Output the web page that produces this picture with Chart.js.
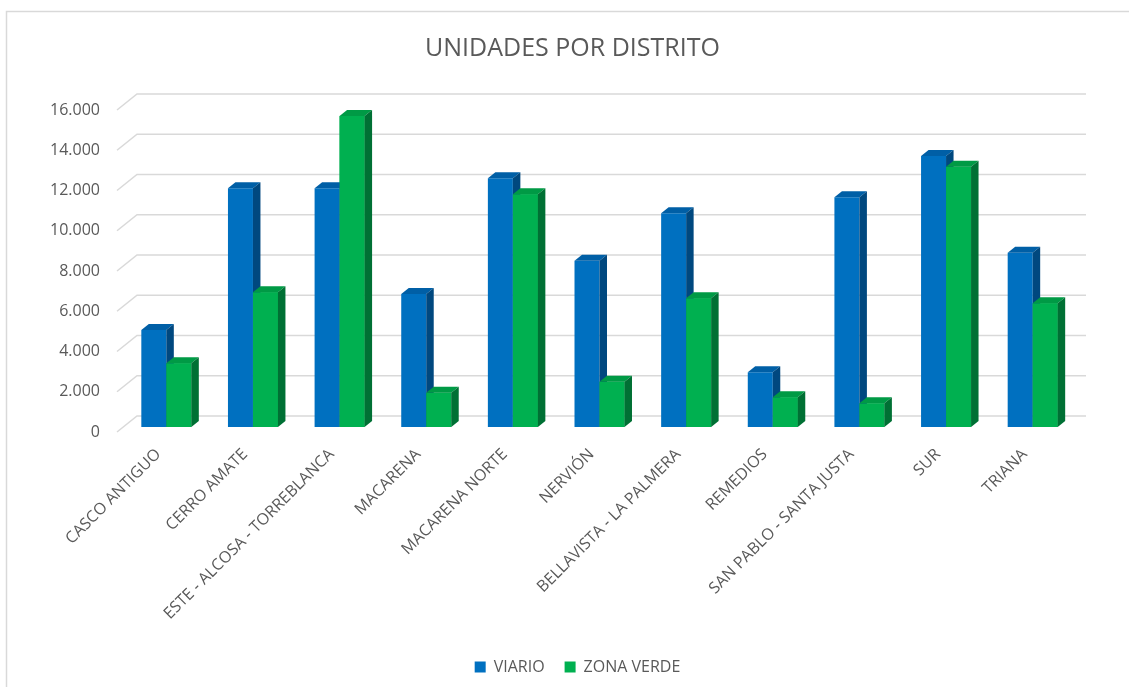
<!DOCTYPE html>
<html>
<head>
<meta charset="utf-8">
<script src="https://cdn.jsdelivr.net/npm/chart.js@4.4.0/dist/chart.umd.min.js"></script>
<style>
  html, body { margin: 0; padding: 0; background: #fff; }
  canvas { display: block; }
</style>
</head>
<body>
<canvas id="myChart" width="1129" height="687"></canvas>
<script>
// datos
const distritos = ['CASCO ANTIGUO', 'CERRO AMATE', 'ESTE - ALCOSA - TORREBLANCA', 'MACARENA',
    'MACARENA NORTE', 'NERVIÓN', 'BELLAVISTA - LA PALMERA', 'REMEDIOS',
    'SAN PABLO - SANTA JUSTA', 'SUR', 'TRIANA'];
const viario = [4820, 11860, 11860, 6610, 12360, 8265, 10620, 2715, 11410, 13465, 8660];
const zonaVerde = [3165, 6690, 15450, 1700, 11560, 2250, 6395, 1475, 1175, 12935, 6145];
const yMax = 16000;
const yStep = 2000;

const gris = '#595959';
const DX = 7.5, DY = -6;   // profundidad de cada barra
const WX = 14, WY = -11;   // pared del fondo
const FX = -6, FY = 5;     // eje frontal

function caras(ctx, meta, ds) {
    meta.data.forEach(bar => {
        const l = bar.x - bar.width / 2;
        const r = bar.x + bar.width / 2;
        const top = bar.y, base = bar.base;
        ctx.fillStyle = ds.topColor;
        ctx.beginPath();
        ctx.moveTo(l, top);
        ctx.lineTo(r, top);
        ctx.lineTo(r + DX, top + DY);
        ctx.lineTo(l + DX, top + DY);
        ctx.closePath();
        ctx.fill();
        ctx.fillStyle = ds.sideColor;
        ctx.beginPath();
        ctx.moveTo(r, top);
        ctx.lineTo(r + DX, top + DY);
        ctx.lineTo(r + DX, base + DY);
        ctx.lineTo(r, base);
        ctx.closePath();
        ctx.fill();
    });
}

// fondo, pared con lineas y efecto 3D de las barras
const bars3d = {
    id: 'bars3d',
    afterLayout(chart) {
        // centrar titulo y leyenda como en excel
        chart.titleBlock.left += 12;
        chart.titleBlock.right += 12;
        chart.legend.left += 17;
        chart.legend.right += 17;
    },
    beforeDraw(chart) {
        const ctx = chart.ctx;
        ctx.save();
        ctx.fillStyle = '#fff';
        ctx.fillRect(0, 0, chart.width, chart.height);
        ctx.strokeStyle = '#D9D9D9';
        ctx.lineWidth = 1.5;
        ctx.strokeRect(6.5, 11.5, 1300, 1000);
        ctx.restore();
    },
    beforeDatasetsDraw(chart) {
        const ctx = chart.ctx;
        const y = chart.scales.y;
        const a = chart.chartArea;
        ctx.save();
        ctx.strokeStyle = '#D9D9D9';
        ctx.lineWidth = 1.5;
        y.ticks.forEach(t => {
            const py = y.getPixelForValue(t.value);
            ctx.beginPath();
            ctx.moveTo(a.left + FX, py + FY);
            ctx.lineTo(a.left + WX, py + WY);
            ctx.lineTo(a.right + 10, py + WY);
            ctx.stroke();
        });
        ctx.restore();
    },
    afterDatasetsDraw(chart) {
        const ctx = chart.ctx;
        const ds = chart.data.datasets;
        ctx.save();
        caras(ctx, chart.getDatasetMeta(0), ds[0]);
        // la serie verde va delante de la cara lateral azul
        chart.getDatasetMeta(1).controller.draw();
        caras(ctx, chart.getDatasetMeta(1), ds[1]);
        ctx.restore();
    }
};

var ctx = document.getElementById('myChart').getContext('2d');
var chart = new Chart(ctx, {
    type: 'bar',
    data: {
        labels: distritos,
        datasets: [{
            label: 'VIARIO',
            data: viario,
            backgroundColor: '#0070C0',
            topColor: '#005FA6',
            sideColor: '#00487F'
        }, {
            label: 'ZONA VERDE',
            data: zonaVerde,
            backgroundColor: '#00B050',
            topColor: '#009A45',
            sideColor: '#007034'
        }]
    },
    options: {
        responsive: false,
        devicePixelRatio: 1,
        animation: false,
        categoryPercentage: 0.577,
        barPercentage: 1,
        layout: { padding: { top: 0, right: 53, bottom: 2, left: 45 } },
        plugins: {
            title: {
                display: true,
                text: 'UNIDADES POR DISTRITO',
                color: gris,
                font: { family: 'Open Sans', size: 25, weight: 'normal' },
                padding: { top: 34, bottom: 41 }
            },
            legend: {
                position: 'bottom',
                labels: {
                    color: gris,
                    boxWidth: 11,
                    boxHeight: 11,
                    padding: 20,
                    font: { family: 'Open Sans', size: 16 }
                }
            },
            tooltip: { enabled: false }
        },
        scales: {
            x: {
                grid: { display: false, drawTicks: false },
                border: { display: false },
                ticks: {
                    color: gris,
                    minRotation: 45,
                    maxRotation: 45,
                    padding: 18,
                    labelOffset: -8,
                    font: { family: 'Open Sans', size: 16 }
                },
                afterFit: function (scale) { scale.height = 212; }
            },
            y: {
                min: 0,
                max: yMax,
                grid: { display: false, drawTicks: false },
                border: { display: false },
                ticks: {
                    stepSize: yStep,
                    color: gris,
                    padding: 23,
                    labelOffset: 5,
                    font: { family: 'Open Sans', size: 16 },
                    callback: v => String(v).replace(/\B(?=(\d{3})+(?!\d))/g, '.')
                },
                afterFit: function (scale) { scale.width = 78; }
            }
        }
    },
    plugins: [bars3d]
});
</script>
</body>
</html>
